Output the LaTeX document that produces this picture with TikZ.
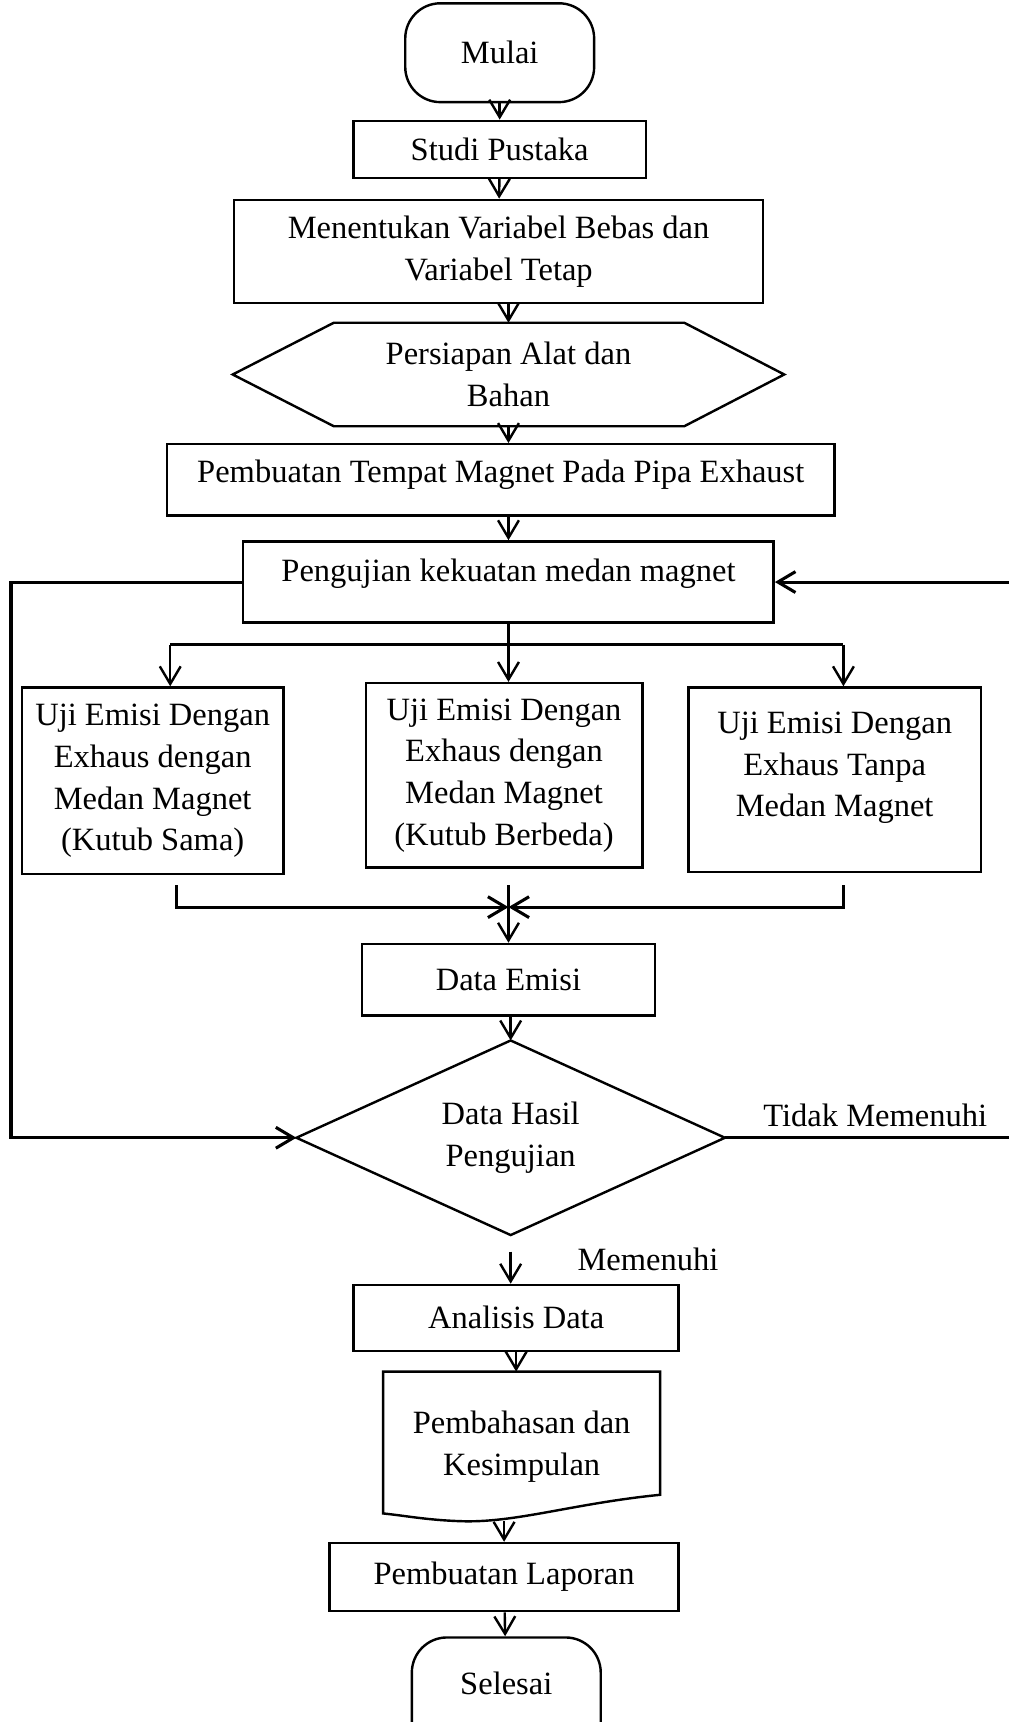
\documentclass[tikz,border=0pt]{standalone}
\usepackage{fontspec}
\setmainfont{Liberation Serif}
\usetikzlibrary{arrows.meta,calc,shapes.geometric,positioning}

\begin{document}
\begin{tikzpicture}[x=0.5pt,y=-0.5pt,
  font=\fontsize{14.8pt}{19pt}\selectfont,
  line width=1.1pt,
  arr/.style={-{Straight Barb[length=8pt,width=9.5pt]}},
  proc/.style={draw,rectangle,align=center,inner sep=2pt},
  term/.style={draw,rounded corners=16pt,align=center,minimum width=86pt,minimum height=45pt}]
  \useasboundingbox (0,0) rectangle (918,1568);
  % main column
  \node[term] (mulai) at (455,48) {Mulai};
  \node[proc,minimum width=133pt,minimum height=26pt] (studi) at (455,136) {Studi Pustaka};
  \node[proc,minimum width=241pt,minimum height=47pt] (tentukan) at (454,229) {Menentukan Variabel Bebas dan\\Variabel Tetap};
  \node[align=center,minimum width=250pt,minimum height=46pt] (prep) at (463,341) {Persiapan Alat dan\\Bahan};
  \draw (prep.west) -- ($(prep.north west)+(92,0)$) -- ($(prep.north east)+(-91,0)$) -- (prep.east)
    -- ($(prep.south east)+(-91,0)$) -- ($(prep.south west)+(92,0)$) -- cycle;
  \node[proc,minimum width=304pt,minimum height=32.5pt,text depth=8pt] (tempat) at (456,437) {Pembuatan Tempat Magnet Pada Pipa Exhaust};
  \node[proc,minimum width=241.5pt,minimum height=37pt,text depth=11pt] (uji) at (463,530) {Pengujian kekuatan medan magnet};
  % three tests
  \node[proc,minimum width=119pt,minimum height=85pt] (box1) at (139,711) {Uji Emisi Dengan\\Exhaus dengan\\Medan Magnet\\(Kutub Sama)};
  \node[proc,minimum width=126pt,minimum height=84pt] (box2) at (459,706) {Uji Emisi Dengan\\Exhaus dengan\\Medan Magnet\\(Kutub Berbeda)};
  \node[proc,minimum width=133pt,minimum height=84pt,text depth=14pt] (box3) at (760,710) {Uji Emisi Dengan\\Exhaus Tanpa\\Medan Magnet};
  \node[proc,minimum width=133.5pt,minimum height=32.5pt] (emisi) at (463,892) {Data Emisi};
  \node[align=center,minimum width=194pt,minimum height=87.5pt,inner sep=0pt] (hasil) at (465,1036) {Data Hasil\\Pengujian};
  \draw (hasil.north) -- (hasil.east) -- (hasil.south) -- (hasil.west) -- cycle;
  \node[proc,minimum width=148pt,minimum height=30pt] (analisis) at (470,1200) {Analisis Data};
  \node[align=center,minimum width=125pt,minimum height=67pt] (doc) at (475,1317) {Pembahasan dan\\Kesimpulan};
  \draw (doc.north west) -- (doc.north east) -- ($(doc.south east)+(0,-24)$)
    .. controls +(-80,8) and +(50,2) .. ($(doc.south west)+(70,0)$)
    .. controls +(-30,-1) and +(20,2) .. ($(doc.south west)+(0,-7)$) -- cycle;
  \node[proc,minimum width=159pt,minimum height=31pt] (laporan) at (459,1436) {Pembuatan Laporan};
  \node[term,minimum height=58pt,text depth=16pt] (selesai) at (461,1549) {Selesai};
  \node (tidak) at (797,1016) {Tidak Memenuhi};
  \node (penuhi) at (590,1147) {Memenuhi};
  % connectors
  \draw[arr] (mulai) -- (studi);
  \draw[arr] (studi) -- (tentukan);
  \draw[arr] (tentukan.south -| prep.north) -- (prep.north);
  \draw[arr] (prep.south) -- (prep.south |- tempat.north);
  \draw[arr] (tempat.south -| uji.north) -- (uji.north);
  \coordinate (split) at (463,587);
  \coordinate (t1) at (155,587);
  \coordinate (t3) at (768,587);
  \draw (uji.south) -- (split);
  \draw (t1) -- (t3);
  \draw[arr] (t1) -- (t1 |- box1.north);
  \draw[arr] (split) -- (split |- box2.north);
  \draw[arr] (t3) -- (t3 |- box3.north);
  \coordinate (m1) at (161,806);
  \coordinate (m2) at (463,806);
  \coordinate (m3) at (768,806);
  \coordinate (mc) at (463,826);
  \draw[arr,line width=1.4pt] (m1) |- (mc);
  \draw[arr,line width=1.4pt] (m3) |- (mc);
  \draw (m2) -- (mc);
  \draw[arr] (mc) -- (mc |- emisi.north);
  \draw[arr] (emisi.south -| hasil.north) -- (hasil.north);
  \draw[arr,shorten <=7.5pt] (hasil.south) -- (hasil.south |- analisis.north);
  \draw[arr] (analisis.south) -- (analisis.south |- doc.north);
  \draw[arr] (laporan.north |- doc.south) -- (laporan.north);
  \draw[arr] (laporan) -- (selesai);
  % loops back to the magnet test
  \coordinate (lf) at (10,0);
  \coordinate (rf) at (930,0);
  \draw[arr,line width=1.4pt] (uji.west) -- (uji.west -| lf) |- (hasil.west);
  \draw[arr,line width=1.4pt] (hasil.east) -- (hasil.east -| rf) |- (uji.east);
\end{tikzpicture}
\end{document}
